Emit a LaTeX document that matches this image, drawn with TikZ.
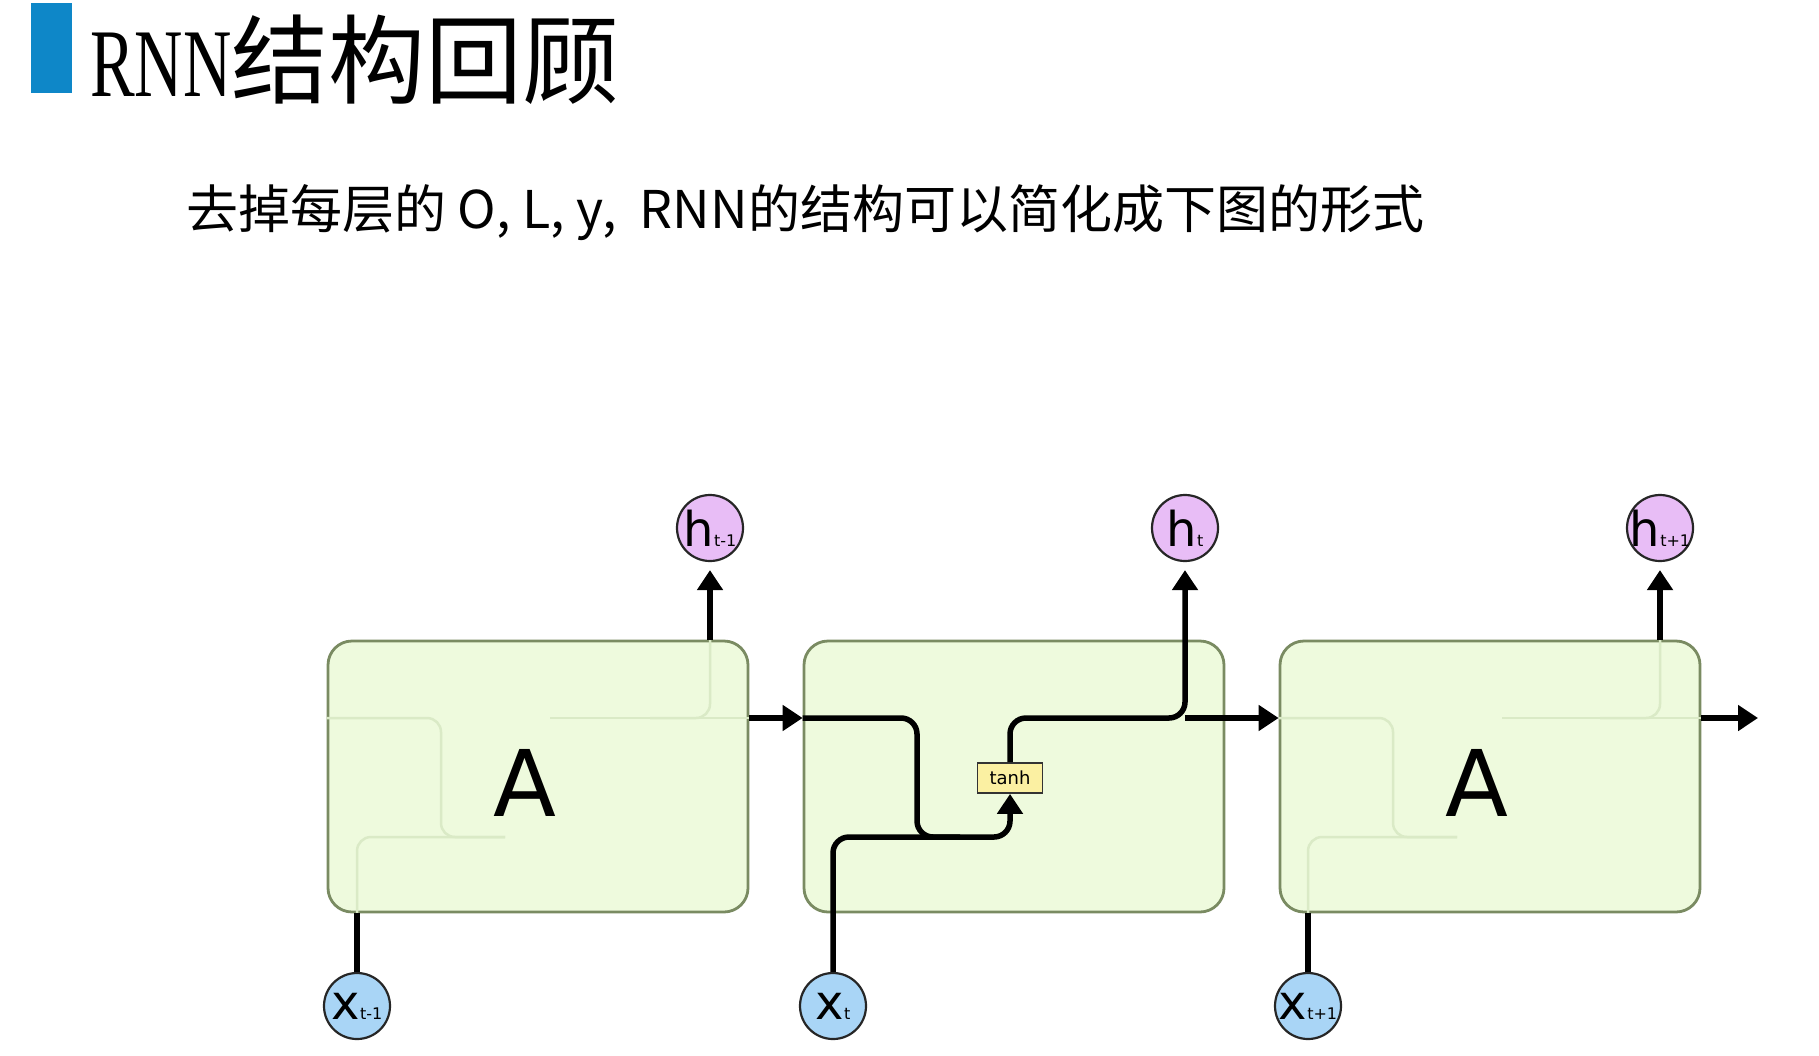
\documentclass[tikz,border=0pt]{standalone}
\usepackage{graphicx}
\usepackage{fontspec}
\setmainfont{DejaVu Sans}
\newfontfamily\cjk{Noto Sans CJK SC}
\newfontfamily\serifrnn{Liberation Serif}
\usetikzlibrary{arrows.meta}
\definecolor{boxfill}{HTML}{EEFADD}
\definecolor{boxline}{HTML}{7A8B62}
\definecolor{faint}{HTML}{DAEAC6}
\definecolor{hfill}{HTML}{E8BDF6}
\definecolor{xfill}{HTML}{A9D5F6}
\definecolor{tanhfill}{HTML}{FBF0A2}
\definecolor{titlebar}{HTML}{0E87C8}
\newcommand\hlab[1]{\makebox[0pt]{\fontsize{48}{48}\selectfont h\fontsize{16}{16}\selectfont #1}}
\newcommand\xlab[1]{\makebox[0pt]{\fontsize{48}{48}\selectfont x\fontsize{16}{16}\selectfont #1}}
\begin{document}
\begin{tikzpicture}[x=1pt,y=-1pt,
 cell/.style={draw=boxline, line width=2.8pt, fill=boxfill, rounded corners=24pt, minimum width=420pt, minimum height=271pt, inner sep=0pt},
 hnode/.style={circle, draw=black!85, line width=2.2pt, fill=hfill, minimum size=66pt, inner sep=0pt},
 xnode/.style={hnode, fill=xfill},
 wire/.style={line width=5.5pt, rounded corners=16pt},
 arr/.style={wire, -{Triangle[length=20pt,width=25pt]}},
 faintw/.style={draw=faint, line width=2.5pt, rounded corners=14pt},
 bigA/.style={font=\fontsize{92}{92}\selectfont, inner sep=0pt},
]
\useasboundingbox[fill=white] (0,0) rectangle (1819,1055);
% title
\fill[titlebar] (31,3) rectangle (72,93);
\node[anchor=base west, inner sep=0pt] (title) at (90,96)
  {\fontsize{97}{97}\selectfont\serifrnn\scalebox{0.69}[1]{RNN}\cjk 结构回顾};
\node[anchor=base west, inner sep=0pt] (sub) at (186,228)
  {\fontsize{52}{52}\selectfont\cjk 去掉每层的 O, L, y,\hspace{0.45em}RNN的结构可以简化成下图的形式};
% cells
\node[cell] (b1) at (538,776.5) {};
\node[cell] (b2) at (1014,776.5) {};
\node[cell] (b3) at (1490,776.5) {};
\coordinate (r) at (0,718);
\coordinate (m) at (0,837);
\coordinate (out) at (1758,718);
% circles
\node[hnode] (h1) at (710,528) {\hlab{t-1}};
\node[hnode] (h2) at (1185,528) {\hlab{t}};
\node[hnode] (h3) at (1660,528) {\hlab{t+1}};
\node[xnode] (x1) at (357,1006) {\xlab{t-1}};
\node[xnode] (x2) at (833,1006) {\xlab{t}};
\node[xnode] (x3) at (1308,1006) {\xlab{t+1}};
% faint inner paths
\draw[faintw] (b1.west |- r) -- (441,718) -- (441,837) -- (505,837);
\draw[faintw] (x1 |- b1.south) -- (x1 |- m) -- (505,837);
\draw[faintw] (550,718) -- (b1.east |- r);
\draw[faintw] (650,718) -- (h1 |- r) -- (b1.north -| h1);
\draw[faintw] (b3.west |- r) -- (1393,718) -- (1393,837) -- (1457,837);
\draw[faintw] (x3 |- b3.south) -- (x3 |- m) -- (1457,837);
\draw[faintw] (1502,718) -- (b3.east |- r);
\draw[faintw] (1600,718) -- (h3 |- r) -- (b3.north -| h3);
% A labels
\node[bigA] (A1) at (525,783) {A};
\node[bigA] (A3) at (1477,783) {A};
% tanh
\node[draw=black!80, line width=1.8pt, fill=tanhfill, minimum width=65pt, minimum height=30pt, inner sep=0pt, font=\fontsize{18}{18}\selectfont] (th) at (1010,778) {tanh};
% wires
\draw[wire] (x1.north) -- (x1 |- b1.south);
\draw[wire] (x3.north) -- (x3 |- b3.south);
\draw[arr, shorten >=8pt] (b1.north -| h1) -- (h1.south);
\draw[arr] (b1.east |- r) -- (b2.west |- r);
\draw[arr] (b2.west |- r) -- (917,718) -- (917,837) -- (th.south |- m) -- (th.south);
\draw[wire] (x2.north) -- (x2 |- m) -- (960,837);
\draw[arr, shorten >=8pt] (th.north) -- (th.north |- r) -- (h2 |- r) -- (h2.south);
\draw[arr] (h2 |- r) -- (b3.west |- r);
\draw[arr, shorten >=8pt] (b3.north -| h3) -- (h3.south);
\draw[arr] (b3.east |- r) -- (out);
\end{tikzpicture}
\end{document}
